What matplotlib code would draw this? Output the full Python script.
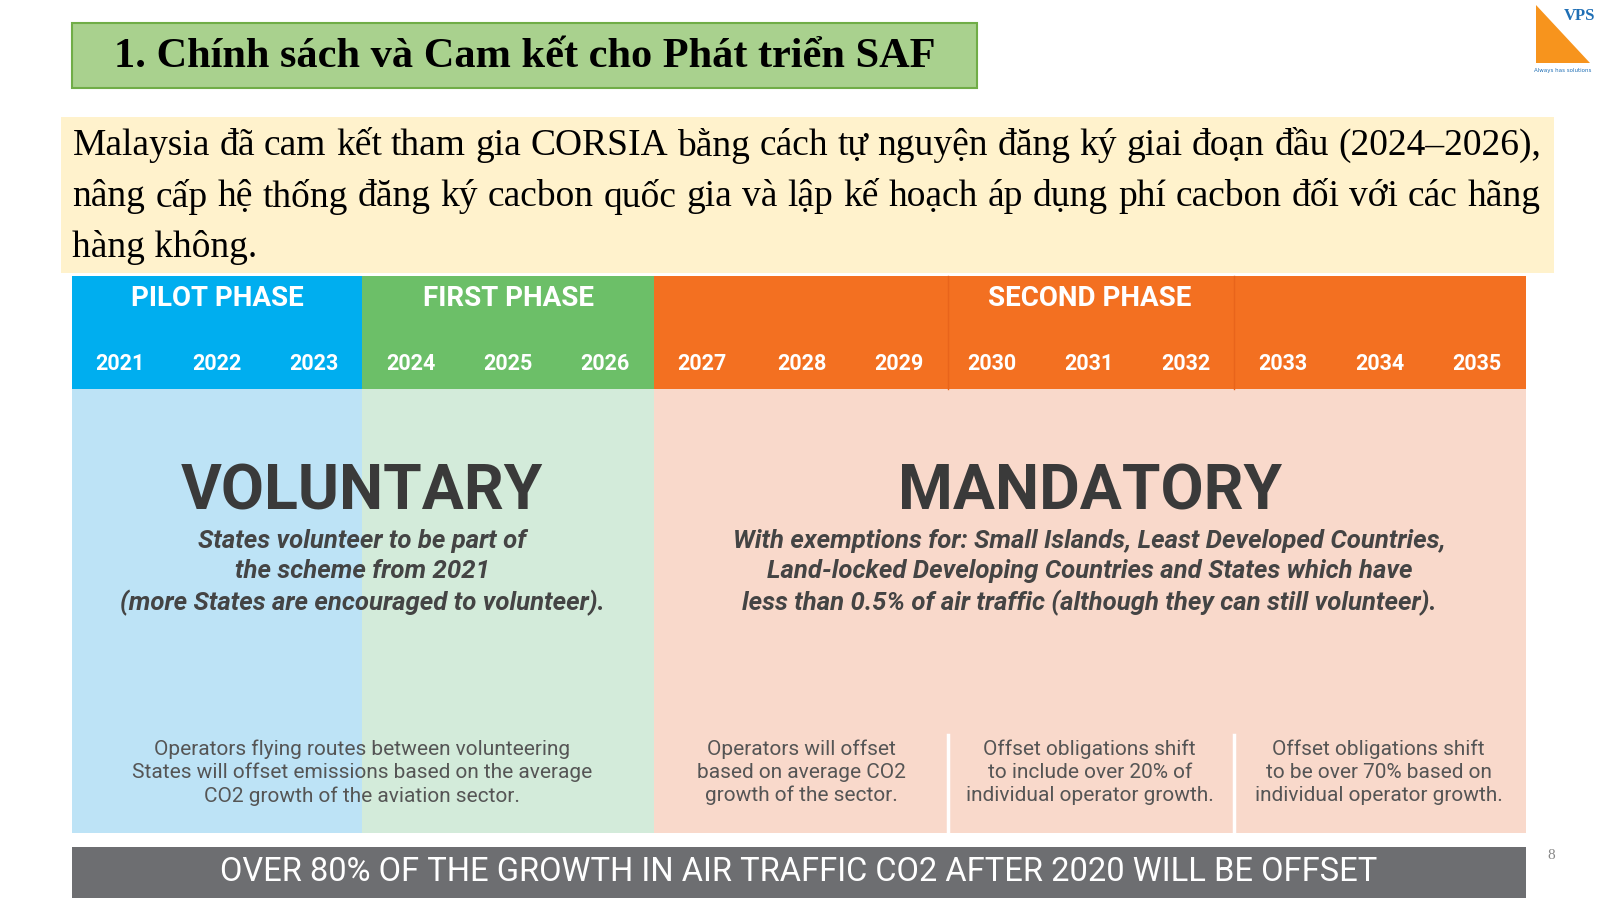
import matplotlib.pyplot as plt
from matplotlib.patches import Rectangle, Polygon

# ---- data ----
years = [2021, 2022, 2023, 2024, 2025, 2026, 2027, 2028, 2029, 2030, 2031, 2032, 2033, 2034, 2035]
year_x = [118, 213, 308, 403, 498, 593, 688, 786, 881, 972, 1067, 1162, 1257, 1352, 1447]
phases = ['PILOT PHASE', 'FIRST PHASE', 'SECOND PHASE']
phase_span = [(71, 355), (355, 641), (641, 1495)]
phase_colors = ['#00AEEF', '#6CBF68', '#F37021']
body_colors = ['#BDE3F6', '#D3EBDA', '#F9D9CB']

title = '1. Chính sách và Cam kết cho Phát triển SAF'
intro = ['Malaysia đã cam kết tham gia CORSIA bằng cách tự nguyện đăng ký giai đoạn đầu (2024–2026),',
         'nâng cấp hệ thống đăng ký cacbon quốc gia và lập kế hoạch áp dụng phí cacbon đối với các hãng',
         'hàng không.']
vol_text = 'States volunteer to be part of\nthe scheme from 2021\n(more States are encouraged to volunteer).'
man_text = ('With exemptions for: Small Islands, Least Developed Countries,\n'
            'Land-locked Developing Countries and States which have\n'
            'less than 0.5% of air traffic (although they can still volunteer).')
notes = [(355, 'Operators flying routes between volunteering\nStates will offset emissions based on the average\nCO2 growth of the aviation sector.'),
         (785, 'Operators will offset\nbased on average CO2\ngrowth of the sector.'),
         (1068, 'Offset obligations shift\nto include over 20% of\nindividual operator growth.'),
         (1351, 'Offset obligations shift\nto be over 70% based on\nindividual operator growth.')]
footer = 'OVER 80% OF THE GROWTH IN AIR TRAFFIC CO2 AFTER 2020 WILL BE OFFSET'

fig = plt.figure(figsize=(16, 9), dpi=100)
ax = fig.add_axes([0, 0, 1, 1])
ax.set_xlim(0, 1568)
ax.set_ylim(882, 0)
ax.axis('off')

sans = 'Roboto'
ax.add_patch(Rectangle((71, 23), 886, 63, fc='#A9D18E', ec='#70AD47', lw=1.5))
ax.text(514, 56, title, fontsize=30.5, fontweight='bold', family='Liberation Serif', ha='center', va='center')

ax.add_patch(Rectangle((60, 115), 1463, 153, fc='#FFF2CC', ec='none'))

# justified intro text
renderer = fig.canvas.get_renderer()
px_per_unit = fig.get_figwidth() * fig.dpi / 1568
left, right = 71, 1510
fs_intro = 27
for i, line in enumerate(intro):
    y = 143 + 50 * i
    words = line.split(' ')
    if i == len(intro) - 1:
        ax.text(left, y, line, fontsize=fs_intro, family='Liberation Serif', ha='left', va='center')
        continue
    arts = [ax.text(0, y, w, fontsize=fs_intro, family='Liberation Serif', ha='left', va='center') for w in words]
    widths = [a.get_window_extent(renderer).width / px_per_unit for a in arts]
    gap = (right - left - sum(widths)) / (len(words) - 1)
    x = left
    for a, w in zip(arts, widths):
        a.set_x(x)
        x += w + gap

# header and body
for (x0, x1), c, bc, name in zip(phase_span, phase_colors, body_colors, phases):
    ax.add_patch(Rectangle((x0, 270), x1 - x0, 111, fc=c, ec='none'))
    ax.add_patch(Rectangle((x0, 381), x1 - x0, 435, fc=bc, ec='none'))
    ax.text((x0 + x1) / 2, 293, name, color='white', fontsize=20, fontweight='bold', family=sans, ha='center', va='center')
for x, y in zip(year_x, years):
    ax.text(x, 357, str(y), color='white', fontsize=15.5, fontweight='bold', family=sans, ha='center', va='center')
for x in [929, 1209]:
    ax.plot([x, x], [270, 381], color='#E8641B', lw=1)
    ax.plot([x, x], [720, 816], color='white', lw=2.5)

ax.text(355, 483, 'VOLUNTARY', fontsize=45, fontweight='bold', family=sans, color='#3A3A3A', ha='center', va='center')
ax.text(1068, 483, 'MANDATORY', fontsize=45, fontweight='bold', family=sans, color='#3A3A3A', ha='center', va='center')
ax.text(355, 561, vol_text, fontsize=18.5, fontweight='bold', style='italic', family=sans, color='#444444',
        ha='center', va='center', linespacing=1.3)
ax.text(1068, 561, man_text, fontsize=18.5, fontweight='bold', style='italic', family=sans, color='#444444',
        ha='center', va='center', linespacing=1.3)
for x, t in notes:
    ax.text(x, 757, t, fontsize=15, family=sans, color='#555555', ha='center', va='center', linespacing=1.25)

ax.add_patch(Rectangle((71, 830), 1424, 50, fc='#6D6E71', ec='none'))
ax.text(783, 855, footer, color='white', fontsize=23.5, family=sans, ha='center', va='center')
ax.text(1520, 838, '8', fontsize=11, family='Liberation Serif', color='#888888', ha='center', va='center')

# logo
ax.add_patch(Polygon([[1505, 5], [1505, 62], [1558, 62]], closed=True, fc='#F7941D', ec='none'))
ax.text(1548, 16, 'VPS', fontsize=12, fontweight='bold', family='Liberation Serif', color='#1F6FB5', ha='center', va='center')
ax.text(1531, 69, 'Always has solutions', fontsize=4, color='#1F6FB5', ha='center', va='center')

fig.savefig('out.png', dpi=100, facecolor='white')
